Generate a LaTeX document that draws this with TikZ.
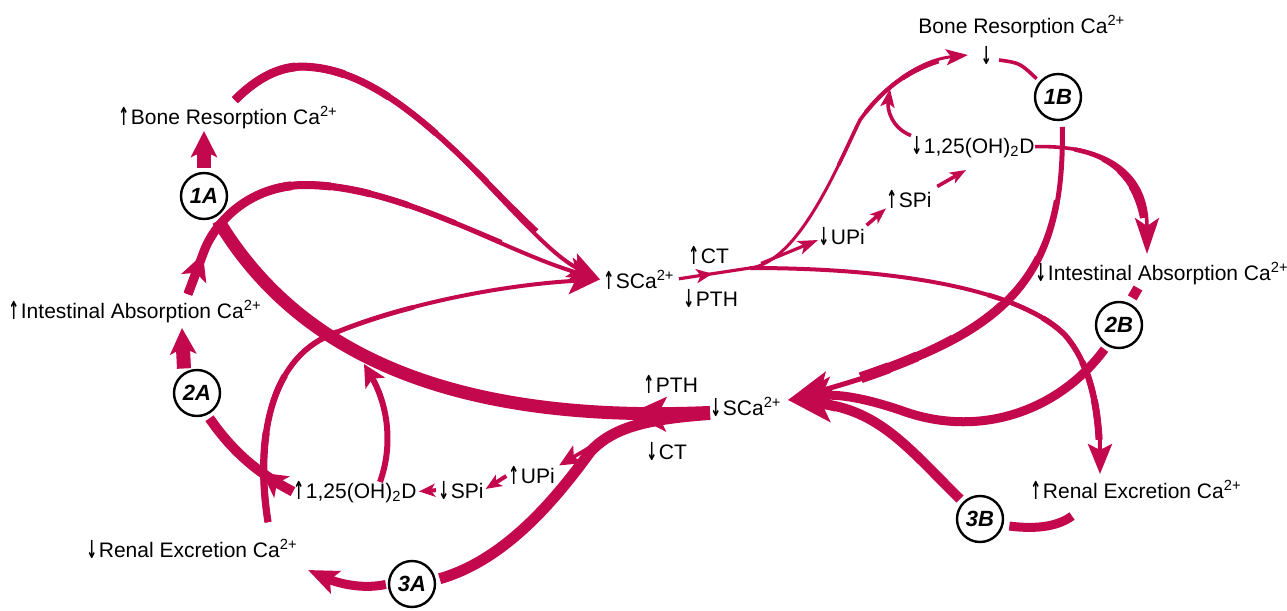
\documentclass[tikz,border=0pt]{standalone}
\usepackage{fontspec}
\setmainfont{Liberation Sans}
\newfontfamily\symf{DejaVu Sans}
\usetikzlibrary{arrows.meta,decorations.markings}
\definecolor{mag}{RGB}{196,8,78}
\newcommand\uar{\raisebox{-0.5pt}{\scalebox{0.62}[1.18]{\symf\bfseries ↑}}\kern0.8pt}
\newcommand\dar{\raisebox{-0.5pt}{\scalebox{0.62}[1.18]{\symf\bfseries ↓}}\kern0.8pt}
\begin{document}
\begin{tikzpicture}[x=0.5pt,y=-0.5pt,
  lab/.style={font=\fontsize{10.5}{12}\selectfont, inner sep=0pt, anchor=base west, text=black},
  circ/.style={circle, draw=black, line width=1.2pt, minimum size=23pt, inner sep=0pt, font=\fontsize{11}{11}\selectfont\bfseries\itshape},
  mg/.style={color=mag, line cap=butt},
  mtip/.style 2 args={postaction={decorate,decoration={markings,mark=at position #1 with {\arrow{#2}}}}}
]
\fill[white] (0,0) rectangle (1287,611);
\useasboundingbox (0,0) rectangle (1287,611);

% ---------- labels ----------
\node[lab] (br1) at (118,124) {\uar Bone Resorption Ca\textsuperscript{2+}};
\node[lab] (ia2) at (8,318) {\uar Intestinal Absorption Ca\textsuperscript{2+}};
\node[lab] (re3) at (86,557) {\dar Renal Excretion Ca\textsuperscript{2+}};
\node[lab] (d25L) at (293,498) {\uar 1,25(OH)\textsubscript{2}D};
\node[lab] (spiL) at (438,498) {\dar SPi};
\node[lab] (upiL) at (508,483) {\uar UPi};
\node[lab] (pthL) at (643,392) {\uar PTH};
\node[lab] (scaL) at (710,415) {\dar SCa\textsuperscript{2+}};
\node[lab] (ctL) at (646,459) {\dar CT};
\node[lab] (scaT) at (603,288) {\uar SCa\textsuperscript{2+}};
\node[lab] (ctT) at (688,263) {\uar CT};
\node[lab] (pthT) at (683,306) {\dar PTH};
\node[lab] (upiR) at (818,244) {\dar UPi};
\node[lab] (spiR) at (886,207) {\uar SPi};
\node[lab] (d25R) at (911,153) {\dar 1,25(OH)\textsubscript{2}D};
\node[lab] (brR) at (918,33) {Bone Resorption Ca\textsuperscript{2+}};
\node[font=\fontsize{10.5}{12}\selectfont, inner sep=0pt] (brRa) at (987,56) {\dar};
\node[lab] (iaR) at (1035,280) {\dar Intestinal Absorption Ca\textsuperscript{2+}};
\node[lab] (reR) at (1030,498) {\uar Renal Excretion Ca\textsuperscript{2+}};

% ---------- circles ----------
\node[circ] (c1A) at (204,196) {1A};
\node[circ] (c2A) at (197,393) {2A};
\node[circ] (c3A) at (412,584) {3A};
\node[circ] (c1B) at (1058,97) {1B};
\node[circ] (c2B) at (1119,325) {2B};
\node[circ] (c3B) at (980,519) {3B};

% ---------- coordinates ----------
\coordinate (brAt) at (204,131);
\coordinate (iaAt) at (182,328);
\coordinate (bra) at (235,100);
\coordinate (iat) at (188,294);
\coordinate (arrC) at (203,254);
\coordinate (ret) at (268,522);
\coordinate (fM) at (590,452);
\coordinate (gS) at (604,439);
\coordinate (jS) at (380,482);
\coordinate (jT) at (364,364);
\coordinate (reT) at (308,570);
\coordinate (J1) at (750,268);
\coordinate (oT) at (968,55);
\coordinate (rT) at (966,170);
\coordinate (sT) at (890,89);
\coordinate (tT) at (1100,474);
\coordinate (uT) at (1147,254);
\coordinate (vS) at (999,60);
\coordinate (wT) at (788,400);
\coordinate (zT) at (1072,516);
\coordinate (aa1) at (1138,288);

% ---------- left side ----------
% 1A -> bone resorption
\draw[mg, line width=7pt, shorten <=2pt, -{Stealth[length=13pt,width=13pt,inset=3pt]}] (c1A.north) -- (brAt);
% 2A -> intestinal absorption
\draw[mg, line width=7pt, shorten <=2pt, -{Stealth[length=13pt,width=13pt,inset=3pt]}] (c2A.122) -- (iaAt);

% bone resorption -> SCa
\def\pB{(bra) .. controls (265,70) and (290,65) .. (310,67) .. controls (420,75) and (520,240) .. ([xshift=-1.5pt]scaT.west)}
\draw[mg, line width=2pt, -{Stealth[length=16pt,width=13pt,inset=3.5pt]}] \pB;
\foreach \w/\l in {2.4/185,2.8/150,3.2/115,3.6/85,4.0/60,4.4/35}
  \draw[mg, line width=\w pt, dash pattern=on \l pt off 3000pt] \pB;

% intestinal absorption -> SCa
\def\pC{(iat) -- (arrC) .. controls (214,222) and (250,185) .. (305,185) .. controls (400,185) and (500,250) .. ([xshift=-1.5pt]scaT.west)}
\draw[mg, line width=2pt, -{Stealth[length=16pt,width=13pt,inset=3.5pt]}] \pC;
\foreach \w/\l in {2.4/190,2.8/165,3.2/140,3.6/120,4.0/100,4.5/80}
  \draw[mg, line width=\w pt, dash pattern=on \l pt off 3000pt] \pC;
\draw[mg, line width=4.5pt, -{Stealth[length=13pt,width=13pt,inset=3pt]}] (iat) -- (arrC);

% renal excretion -> SCa
\def\pD{(ret) .. controls (255,440) and (270,360) .. (330,335) .. controls (400,305) and (500,285) .. ([xshift=-1.5pt]scaT.west)}
\draw[mg, line width=2pt, -{Stealth[length=16pt,width=13pt,inset=3.5pt]}] \pD;
\foreach \w/\l in {2.4/150,2.8/110,3.2/75,3.6/45}
  \draw[mg, line width=\w pt, dash pattern=on \l pt off 3000pt] \pD;

% low SCa -> 1A (big band)
\draw[mg, line width=6.5pt, shorten >=2pt, mtip={40pt}{Stealth[length=18pt,width=17pt,inset=4pt]}] ([yshift=-3pt]scaL.west) .. controls (430,425) and (290,340) .. (c1A.300);
% low SCa -> 3A
\draw[mg, line width=5.5pt, shorten >=2pt] ([yshift=-4pt]scaL.west) .. controls (645,419) and (612,428) .. (fM) .. controls (555,500) and (505,560) .. (c3A.10);
% branch -> UPi
\draw[mg, line width=1.8pt, -{Stealth[length=11pt,width=10pt,inset=2.5pt]}] (gS) -- ([xshift=2pt]upiL.north east);
% UPi -> SPi -> 1,25(OH)2D
\draw[mg, line width=2pt, shorten <=1pt, shorten >=1pt, -{Stealth[length=8pt,width=6.5pt,inset=2pt]}] (upiL.west) -- (spiL.east);
\draw[mg, line width=2pt, shorten <=1pt, shorten >=1pt, -{Stealth[length=8pt,width=6.5pt,inset=2pt]}] (spiL.west) -- (d25L.east);
% 1,25(OH)2D -> band
\draw[mg, line width=3pt, -{Stealth[length=11pt,width=11pt,inset=2.5pt]}] (jS) .. controls (395,440) and (385,400) .. (jT);
% 1,25(OH)2D -> 2A
\draw[mg, line width=5pt, shorten >=2pt, mtip={18pt}{Stealth[length=12pt,width=13pt,inset=3pt]}] (d25L.west) .. controls (255,472) and (230,448) .. (c2A.-65);
% 3A -> renal excretion
\draw[mg, line width=4.5pt, shorten <=1pt, -{Stealth[length=15pt,width=12pt,inset=3pt]}] (c3A.west) .. controls (360,590) and (335,582) .. (reT);

% ---------- right side ----------
% high SCa -> junction
\draw[mg, line width=1.6pt, shorten <=2pt, mtip={0.5}{Stealth[length=8pt,width=7pt,inset=2pt]}] (scaT.east) -- (J1);
% junction -> bone resorption (top)
\def\pO{(J1) .. controls (800,262) and (840,160) .. (860,120) .. controls (885,85) and (920,60) .. (oT)}
\draw[mg, line width=1.5pt, -{Stealth[length=11pt,width=8pt,inset=2.5pt]}] \pO;
\foreach \w/\a/\b in {1.8/70/75,2.1/100/45,2.4/125/20}
  \draw[mg, line width=\w pt, dash pattern=on 0pt off \a pt on \b pt off 3000pt] \pO;
% junction -> UPi
\draw[mg, line width=1.6pt, shorten <=6pt, -{Stealth[length=10pt,width=7pt,inset=2.5pt]}] (J1) -- ([yshift=-2pt]upiR.west);
% UPi -> SPi -> 1,25(OH)2D
\draw[mg, line width=1.8pt, shorten <=1pt, -{Stealth[length=8pt,width=6pt,inset=2pt]}] (upiR.north east) -- (spiR.south west);
\draw[mg, line width=1.8pt, shorten <=3pt, -{Stealth[length=8pt,width=6pt,inset=2pt]}] (spiR.north east) -- (rT);
% 1,25(OH)2D -> bone arc
\draw[mg, line width=1.8pt, -{Stealth[length=9pt,width=7pt,inset=2pt]}] (d25R.north west) .. controls (892,128) and (887,110) .. (sT);
% junction -> renal excretion
\def\pT{(J1) .. controls (900,268) and (1020,290) .. (1065,335) .. controls (1095,370) and (1100,420) .. (tT)}
\draw[mg, line width=2pt, -{Stealth[length=15pt,width=12pt,inset=3pt]}] \pT;
\foreach \w/\a/\b in {2.4/120/100,2.8/150/70,3.2/180/40,3.5/200/20}
  \draw[mg, line width=\w pt, dash pattern=on 0pt off \a pt on \b pt off 3000pt] \pT;
% 1,25(OH)2D -> intestinal absorption
\def\pU{(d25R.east) .. controls (1110,145) and (1147,175) .. (uT)}
\draw[mg, line width=1.8pt, -{Stealth[length=18pt,width=12pt,inset=4pt]}] \pU;
\foreach \w/\a/\b in {2.3/20/52,2.8/35/37,3.3/45/27,3.8/55/17}
  \draw[mg, line width=\w pt, dash pattern=on 0pt off \a pt on \b pt off 3000pt] \pU;
% bone resorption -- 1B
\draw[mg, line width=1.8pt, shorten >=2pt] (vS) .. controls (1020,63) .. (c1B.140);
% 1B -> low SCa
\def\pW{(c1B.-80) .. controls (1065,290) and (1000,340) .. (wT)}
\draw[mg, line width=2.5pt, shorten <=3pt, -{Stealth[length=22pt,width=17pt,inset=5pt]}] \pW;
\foreach \w/\a/\b in {3.0/40/140,3.5/70/110,4.0/100/80,4.5/130/50,5.0/150/30,5.5/165/15}
  \draw[mg, line width=\w pt, dash pattern=on 0pt off \a pt on \b pt off 3000pt] \pW;
% 2B -> low SCa
\draw[mg, line width=4.5pt, shorten <=2pt, -{Stealth[length=22pt,width=17pt,inset=5pt]}] (c2B.-120) .. controls (1060,410) and (980,440) .. (900,410) .. controls (870,400) and (840,393) .. (wT);
% 3B -> low SCa
\draw[mg, line width=5pt, shorten <=2pt, -{Stealth[length=22pt,width=17pt,inset=5pt]}] (c3B.135) .. controls (910,450) and (880,410) .. (wT);
% 3B -- renal excretion
\draw[mg, line width=4.5pt, shorten <=3pt] (c3B.-15) .. controls (1040,530) and (1060,525) .. (zT);
% intestinal absorption -- 2B
\draw[mg, line width=5pt, shorten >=3pt] (aa1) -- (c2B.65);
\end{tikzpicture}
\end{document}
